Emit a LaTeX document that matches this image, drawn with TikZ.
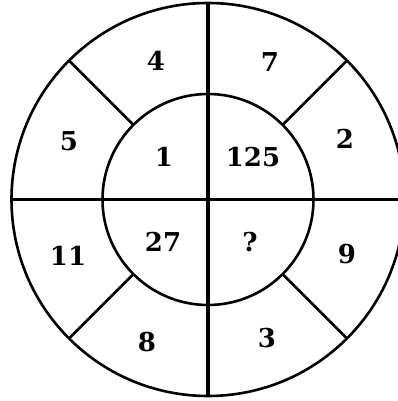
\documentclass[tikz,border=0pt]{standalone}
\usepackage{fontspec}
\newfontfamily\numfont{DejaVu Serif}
\usetikzlibrary{calc}
\begin{document}
\begin{tikzpicture}[x=1pt,y=-1pt,
  num/.style={font=\numfont\bfseries\fontsize{26}{30}\selectfont, inner sep=0pt},
  ring/.style={line width=2.6pt},
  axisv/.style={line width=3.2pt},
  axish/.style={line width=2.4pt}]
\clip (0,0) rectangle (398,401);
\fill[white] (0,0) rectangle (398,401);
\coordinate (c) at (208,199.5);
\coordinate (top) at ($(c)+(0,-196.5pt)$);
\coordinate (bot) at ($(c)+(0,196.5pt)$);
\coordinate (left) at ($(c)+(-196.5pt,0)$);
\coordinate (right) at (398,199.5);
\draw[ring] (c) circle[radius=196.5pt];
\draw[ring] (c) circle[radius=105.5pt];
\draw[axisv] (top) -- (bot);
\draw[axish] (left) -- (right);
\foreach \a in {45,135,225,315}{
  \draw[ring] ($(c)+(\a:105.5pt)$) -- ($(c)+(\a:196.5pt)$);
}
\node[num] (n4) at (156,61) {4};
\node[num] (n7) at (270,62) {7};
\node[num] (n5) at (69,141) {5};
\node[num] (n2) at (345,139) {2};
\node[num] (n1) at (164,157) {1};
\node[num] (n125) at (253,157) {125};
\node[num] (n11) at (68,256) {11};
\node[num] (n27) at (163,242) {27};
\node[num] (nq) at (250,242) {?};
\node[num] (n9) at (347,254) {9};
\node[num] (n8) at (147,342) {8};
\node[num] (n3) at (267,338) {3};
\end{tikzpicture}
\end{document}
